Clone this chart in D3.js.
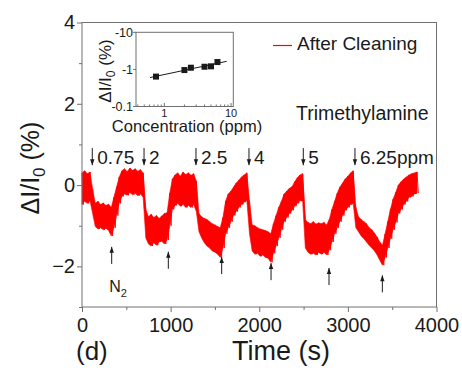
<!DOCTYPE html>
<html><head><meta charset="utf-8">
<script src="https://cdn.jsdelivr.net/npm/d3@7/dist/d3.min.js"></script>
<style>
html,body{margin:0;padding:0;background:#fff;}
svg{display:block;font-family:Arial,"Liberation Sans",sans-serif;}
</style></head>
<body><svg id="c" width="462" height="372"></svg>
<script>
// ---------- data ----------
const sampleStep = 30; // seconds between envelope samples
const upperEnv = [
  0.30, 0.35, 0.28, 0.32,-0.10,-0.45,-0.40,-0.48,-0.44,-0.50,
 -0.47,-0.55,-0.30,-0.05, 0.20, 0.35, 0.40, 0.33, 0.42, 0.36,
  0.40, 0.34, 0.38, 0.30,-0.60,-0.78,-0.72,-0.80,-0.75,-0.82,
 -0.76,-0.70,-0.68,-0.20, 0.15, 0.25, 0.30, 0.22, 0.32, 0.26,
  0.30, 0.24, 0.28, 0.10,-0.70,-0.78,-0.82,-0.85,-0.90,-0.95,
 -0.98,-1.02,-1.05,-0.80,-0.40,-0.22,-0.15,-0.05, 0.05, 0.12,
  0.20, 0.25, 0.30,-0.40,-0.98,-1.00,-1.05,-1.08,-1.10,-1.12,
 -1.15,-1.20,-0.95,-0.75,-0.55,-0.40,-0.22,-0.15,-0.08,-0.04,
  0.08, 0.18, 0.25, 0.28,-0.85,-0.92,-0.95,-0.90,-0.96,-0.93,
 -0.95,-0.92,-0.98,-0.85,-0.60,-0.40,-0.20,-0.05, 0.05, 0.15,
  0.22, 0.30, 0.35,-0.55,-0.78,-0.85,-0.90,-0.95,-1.05,-1.10,
 -1.18,-1.28,-1.40,-1.48,-1.20,-0.90,-0.60,-0.35,-0.18, 0.00,
  0.08, 0.15, 0.20, 0.25, 0.28, 0.30, 0.32
];
const lowerEnv = [
 -0.48,-0.40,-0.45,-0.38,-0.70,-1.02,-1.08,-1.05,-1.10,-1.06,
 -1.12,-1.25,-1.05,-0.75,-0.45,-0.28,-0.22,-0.25,-0.18,-0.24,
 -0.20,-0.26,-0.22,-0.30,-1.30,-1.45,-1.50,-1.42,-1.48,-1.40,
 -1.38,-1.45,-1.35,-1.00,-0.60,-0.50,-0.45,-0.52,-0.47,-0.55,
 -0.50,-0.55,-0.48,-0.65,-1.15,-1.30,-1.42,-1.50,-1.55,-1.62,
 -1.65,-1.70,-1.78,-1.55,-1.20,-1.05,-0.90,-0.75,-0.65,-0.55,
 -0.48,-0.42,-0.38,-1.20,-1.62,-1.70,-1.68,-1.75,-1.72,-1.78,
 -1.80,-1.90,-1.68,-1.50,-1.30,-1.10,-0.90,-0.80,-0.70,-0.62,
 -0.52,-0.45,-0.38,-0.40,-1.55,-1.65,-1.70,-1.68,-1.72,-1.66,
 -1.70,-1.65,-1.72,-1.60,-1.40,-1.20,-1.05,-0.90,-0.75,-0.62,
 -0.55,-0.48,-0.45,-1.05,-1.15,-1.25,-1.32,-1.40,-1.48,-1.55,
 -1.62,-1.72,-1.85,-1.97,-1.78,-1.55,-1.32,-1.10,-0.92,-0.70,
 -0.60,-0.48,-0.40,-0.30,-0.28,-0.22,-0.20
];
const gasOnTimes = [116, 700, 1286, 1884, 2497, 3080];
const concLabels = ["0.75", "2", "2.5", "4", "5", "6.25ppm"];
const gasOffTimes = [335, 974, 1576, 2133, 2787, 3389];
const gasOffTip = [-1.52, -1.64, -1.77, -1.92, -2.04, -2.22];
const xTicks = [0, 1000, 2000, 3000, 4000];
const xMinor = [500, 1500, 2500, 3500];
const yTicks = [-2, 0, 2, 4];
const yMinor = [-3, -1, 1, 3];
// inset
const insetConc = [0.75, 2, 2.5, 4, 5, 6.25];
const insetResp = [0.64, 0.96, 1.11, 1.18, 1.21, 1.58]; // |ΔI/I0| (%)
const insetYTicks = [0.1, 1, 10];
const insetYLabels = ["-0.1", "-1", "-10"];
const insetXTicks = [1, 10];

// ---------- layout ----------
const svg = d3.select("#c");
const ink = "#1a1a1a", frameCol = "#707070", red = "#ff0000";
const x = d3.scaleLinear().domain([0, 4000]).range([82, 436.5]);
const y = d3.scaleLinear().domain([-3, 4]).range([307, 22.5]);

// signal: filled noise band plus a zig-zag through the envelope for ragged edges
const band = upperEnv.map((u, i) => ({ t: i * sampleStep, hi: u, lo: lowerEnv[i] }));
svg.append("path")
  .attr("d", d3.area().x(d => x(d.t)).y0(d => y(d.lo)).y1(d => y(d.hi))(band))
  .attr("fill", red).attr("stroke", red).attr("stroke-width", 0.6);
const pts = [];
band.forEach(d => { pts.push([d.t, d.hi]); pts.push([d.t + sampleStep / 2, d.lo]); });
svg.append("path")
  .attr("d", d3.line().x(d => x(d[0])).y(d => y(d[1]))(pts))
  .attr("fill", "none").attr("stroke", red).attr("stroke-width", 0.9);

// frame
svg.append("rect").attr("x", x(0)).attr("y", y(4))
  .attr("width", x(4000) - x(0)).attr("height", y(-3) - y(4))
  .attr("fill", "none").attr("stroke", frameCol).attr("stroke-width", 1);

// axes
const gx = svg.append("g").attr("transform", `translate(0,${y(-3)})`)
  .call(d3.axisBottom(x).tickValues(xTicks).tickSize(5).tickFormat(d3.format("d")));
svg.append("g").attr("transform", `translate(0,${y(-3)})`)
  .call(d3.axisBottom(x).tickValues(xMinor).tickSize(3).tickFormat(""));
const gy = svg.append("g").attr("transform", `translate(${x(0)},0)`)
  .call(d3.axisLeft(y).tickValues(yTicks).tickSize(5).tickFormat(d3.format("d")));
svg.append("g").attr("transform", `translate(${x(0)},0)`)
  .call(d3.axisLeft(y).tickValues(yMinor).tickSize(3).tickFormat(""));
svg.selectAll(".domain").remove();
svg.selectAll(".tick line").attr("stroke", frameCol);
gx.selectAll("text").attr("font-size", 20).attr("fill", ink).attr("y", 8).attr("dy", "0.85em")
  .attr("font-family", "Arial, Liberation Sans, sans-serif");
gy.selectAll("text").attr("font-size", 20).attr("fill", ink).attr("x", -7)
  .attr("font-family", "Arial, Liberation Sans, sans-serif");

// axis titles
svg.append("text").attr("x", 281).attr("y", 360).attr("text-anchor", "middle")
  .attr("font-size", 27).attr("fill", ink).text("Time (s)");
svg.append("text").attr("x", 76).attr("y", 360)
  .attr("font-size", 26).attr("fill", ink).text("(d)");
const yl = svg.append("text").attr("transform", "translate(39,168) rotate(-90)")
  .attr("text-anchor", "middle").attr("font-size", 25).attr("fill", ink);
yl.append("tspan").text("ΔI/I");
yl.append("tspan").attr("font-size", 17).attr("dy", 6).text("0");
yl.append("tspan").attr("dy", -6).text(" (%)");

// gas-on arrows and concentration labels
const ah = (g, tipY, dir) =>
  `M${g - 2.2},${tipY - dir * 6}L${g + 2.2},${tipY - dir * 6}L${g},${tipY}Z`;
gasOnTimes.forEach((t, i) => {
  const gx0 = x(t);
  svg.append("line").attr("x1", gx0).attr("x2", gx0)
    .attr("y1", y(0.91)).attr("y2", y(0.49)).attr("stroke", ink).attr("stroke-width", 1);
  svg.append("path").attr("d", ah(gx0, y(0.49), 1)).attr("fill", ink);
  svg.append("text").attr("x", gx0 + 5).attr("y", y(0.53))
    .attr("font-size", 19).attr("fill", ink).text(concLabels[i]);
});
gasOffTimes.forEach((t, i) => {
  const gx0 = x(t);
  svg.append("line").attr("x1", gx0).attr("x2", gx0)
    .attr("y1", y(gasOffTip[i])).attr("y2", y(gasOffTip[i] - 0.42))
    .attr("stroke", ink).attr("stroke-width", 1);
  svg.append("path").attr("d", ah(gx0, y(gasOffTip[i]), -1)).attr("fill", ink);
});
const n2 = svg.append("text").attr("x", x(308)).attr("y", y(-2.63))
  .attr("font-size", 16).attr("fill", ink);
n2.append("tspan").text("N");
n2.append("tspan").attr("font-size", 11).attr("dy", 5).text("2");

// legend & gas name
svg.append("line").attr("x1", 273).attr("x2", 292).attr("y1", 45.5).attr("y2", 45.5)
  .attr("stroke", red).attr("stroke-width", 1.2);
svg.append("text").attr("x", 297).attr("y", 49.5).attr("font-size", 19)
  .attr("fill", ink).text("After Cleaning");
svg.append("text").attr("x", 296).attr("y", 120).attr("font-size", 19.5)
  .attr("fill", ink).text("Trimethylamine");

// ---------- inset ----------
const ix = d3.scaleLog().domain([0.376, 10.8]).range([136, 233.3]);
const iy = d3.scaleLog().domain([0.1, 10]).range([106.5, 32.3]);
svg.append("rect").attr("x", 136).attr("y", 32.3).attr("width", 233.3 - 136)
  .attr("height", 106.5 - 32.3).attr("fill", "#fff")
  .attr("stroke", frameCol).attr("stroke-width", 1);
const ixAll = [0.4,0.5,0.6,0.7,0.8,0.9,2,3,4,5,6,7,8,9];
svg.append("g").selectAll("line").data(ixAll).join("line")
  .attr("x1", d => ix(d)).attr("x2", d => ix(d))
  .attr("y1", 106.5).attr("y2", 104.5).attr("stroke", frameCol).attr("stroke-width", 1);
svg.append("g").selectAll("line").data(insetXTicks).join("line")
  .attr("x1", d => ix(d)).attr("x2", d => ix(d))
  .attr("y1", 106.5).attr("y2", 103).attr("stroke", frameCol).attr("stroke-width", 1);
svg.append("g").selectAll("text").data(insetXTicks).join("text")
  .attr("x", d => ix(d)).attr("y", 116.5).attr("text-anchor", "middle")
  .attr("font-size", 11).attr("fill", ink).text(d => d);
svg.append("g").selectAll("line").data(insetYTicks).join("line")
  .attr("x1", 133).attr("x2", 136).attr("y1", d => iy(d)).attr("y2", d => iy(d))
  .attr("stroke", frameCol).attr("stroke-width", 1);
svg.append("g").selectAll("text").data(insetYTicks).join("text")
  .attr("x", 133).attr("y", d => iy(d)).attr("dy", "0.35em").attr("text-anchor", "end")
  .attr("font-size", 12.5).attr("fill", ink).text((d, i) => insetYLabels[i]);
// fit line (least squares in log-log)
const lx = insetConc.map(Math.log10), ly = insetResp.map(Math.log10);
const mx = d3.mean(lx), my = d3.mean(ly);
const slope = d3.sum(lx.map((v, i) => (v - mx) * (ly[i] - my))) / d3.sum(lx.map(v => (v - mx) ** 2));
const icpt = my - slope * mx;
const fitX = [0.61, 8.6];
svg.append("path")
  .attr("d", d3.line().x(d => ix(d)).y(d => iy(Math.pow(10, icpt + slope * Math.log10(d))))(fitX))
  .attr("stroke", ink).attr("stroke-width", 1).attr("fill", "none");
svg.append("g").selectAll("rect").data(insetConc).join("rect")
  .attr("x", d => ix(d) - 3).attr("y", (d, i) => iy(insetResp[i]) - 3)
  .attr("width", 6).attr("height", 6).attr("fill", ink);
svg.append("text").attr("x", 187).attr("y", 132).attr("text-anchor", "middle")
  .attr("font-size", 16.5).attr("fill", ink).text("Concentration (ppm)");
const iyl = svg.append("text").attr("transform", "translate(111,71) rotate(-90)")
  .attr("text-anchor", "middle").attr("font-size", 17).attr("fill", ink);
iyl.append("tspan").text("ΔI/I");
iyl.append("tspan").attr("font-size", 12).attr("dy", 4).text("0");
iyl.append("tspan").attr("dy", -4).text(" (%)");
</script></body></html>
